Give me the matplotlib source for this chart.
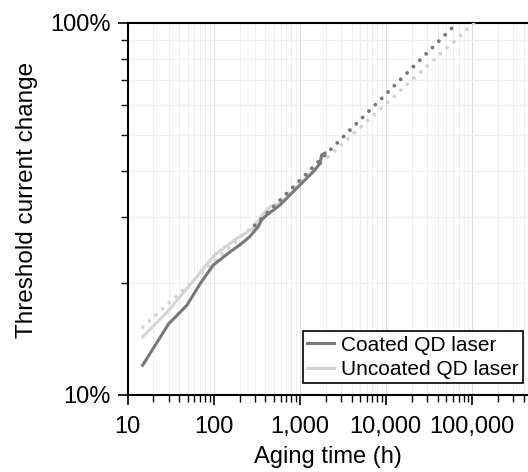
import matplotlib
matplotlib.use("Agg")
import matplotlib.pyplot as plt
from matplotlib.ticker import FuncFormatter, LogLocator, NullFormatter
import numpy as np

plt.rcParams['font.family'] = ['Liberation Sans', 'DejaVu Sans']

# Measured threshold-current change (fraction) vs aging time (h)
coated_hours = [15, 30, 49, 70, 99, 155, 203, 263, 330, 361, 414, 591, 807, 1101, 1506, 1722, 1800, 1966]
coated_change = [0.120, 0.155, 0.174, 0.199, 0.223, 0.242, 0.253, 0.266, 0.283, 0.295, 0.304, 0.3235, 0.348,
                 0.374, 0.402, 0.419, 0.441, 0.446]

uncoated_hours = [15, 29, 59, 100, 109, 185, 289, 378, 452, 590]
uncoated_change = [0.143, 0.167, 0.203, 0.236, 0.240, 0.263, 0.280, 0.307, 0.320, 0.327]

# Power-law extrapolations (end points on log-log axes)
coated_fit_hours = [300, 67600]
coated_fit_change = [0.285, 1.0]
uncoated_fit_hours = [15, 106700]
uncoated_fit_change = [0.152, 1.0]

x_ticks = [10, 100, 1000, 10000, 100000]

dark = '#787878'
light = '#d4d4d4'
fs = 17

fig = plt.figure(figsize=(5.28, 4.72), dpi=100)
ax = fig.add_axes([127.5 / 528, 77.3 / 472, 430.5 / 528, 372 / 472])
ax.set_xscale('log')
ax.set_yscale('log')
ax.set_xlim(10, 1e6)
ax.set_ylim(0.1, 1.0)


def fit_curve(h, c):
    t = np.logspace(np.log10(h[0]), np.log10(h[1]), 200)
    slope = (np.log10(c[1]) - np.log10(c[0])) / (np.log10(h[1]) - np.log10(h[0]))
    return t, c[0] * (t / h[0]) ** slope


dot = (0, (0.01, 2.3))
t, v = fit_curve(uncoated_fit_hours, uncoated_fit_change)
ax.plot(t, v, color=light, lw=2.8, linestyle=dot, dash_capstyle='round', zorder=3)
ax.plot(uncoated_hours, uncoated_change, color=light, lw=2.2, zorder=4, label='Uncoated QD laser')
t, v = fit_curve(coated_fit_hours, coated_fit_change)
ax.plot(t, v, color=dark, lw=2.8, linestyle=dot, dash_capstyle='round', zorder=5)
ax.plot(coated_hours, coated_change, color=dark, lw=2.2, zorder=6, label='Coated QD laser')

ax.grid(True, which='major', color='#dedede', lw=0.8)
ax.grid(True, which='minor', color='#eeeeee', lw=0.8)
ax.set_axisbelow(True)

ax.set_xticks(x_ticks)
ax.xaxis.set_minor_locator(LogLocator(base=10, subs=np.arange(2, 10), numticks=20))
ax.xaxis.set_major_formatter(FuncFormatter(lambda v, p: f'{int(round(v)):,}'))
ax.xaxis.set_minor_formatter(NullFormatter())
ax.set_yticks([0.1, 1.0])
ax.yaxis.set_minor_locator(LogLocator(base=10, subs=np.arange(2, 10), numticks=20))
ax.yaxis.set_major_formatter(FuncFormatter(lambda v, p: f'{v * 100:.0f}%'))
ax.yaxis.set_minor_formatter(NullFormatter())

ax.tick_params(which='major', direction='out', length=7, width=1.2, labelsize=fs, pad=5, color='black')
ax.tick_params(which='minor', direction='out', length=5, width=1.0, color='black')
ax.tick_params(axis='x', which='major', pad=8)

for side in ['left', 'top', 'bottom']:
    ax.spines[side].set_linewidth(1.5)
    ax.spines[side].set_color('black')
ax.spines['right'].set_visible(False)

ax.set_xlabel('Aging time (h)', fontsize=fs)
ax.set_ylabel('Threshold current change', fontsize=17.5)
ax.xaxis.set_label_coords((328 - 127.5) / 430.5, -51 / 372)
ax.yaxis.set_label_coords(-89 / 430.5, (394.7 - 200) / 372)

handles, labels = ax.get_legend_handles_labels()
order = [1, 0]
leg = ax.legend([handles[i] for i in order], [labels[i] for i in order],
                loc='lower right', bbox_to_anchor=(523 / 528, 89 / 472), bbox_transform=fig.transFigure,
                borderaxespad=0, fancybox=False, framealpha=1, edgecolor='black', fontsize=15,
                handlelength=1.3, handletextpad=0.35, borderpad=0.2, labelspacing=0.25)
leg.get_frame().set_linewidth(1.2)

fig.savefig('out.png', dpi=100)
